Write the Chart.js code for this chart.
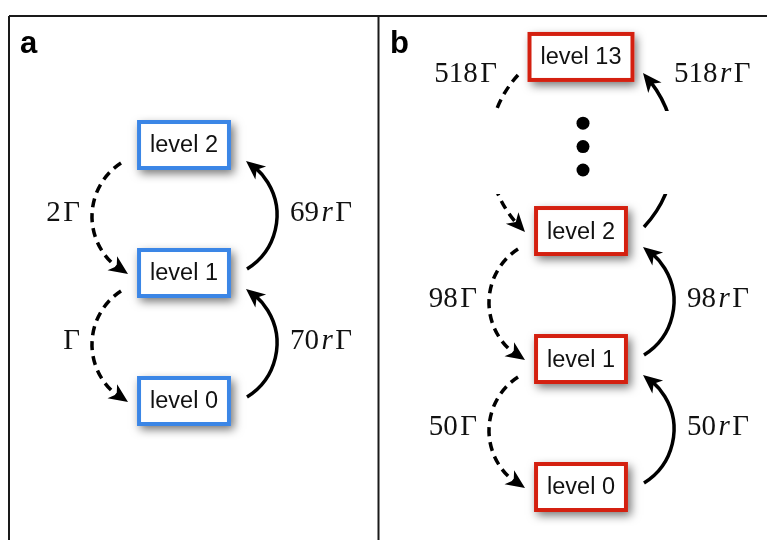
<!DOCTYPE html>
<html>
<head>
<meta charset="utf-8">
<script src="https://cdn.jsdelivr.net/npm/chart.js"></script>
<style>
  html, body { margin: 0; padding: 0; background: #fff; }
  #wrap { width: 767px; height: 540px; position: relative; }
</style>
</head>
<body>
<div id="wrap"><canvas id="chart"></canvas></div>
<script>
// levels shown in each panel
const levelsA = [0, 1, 2];
const levelsB = [0, 1, 2, 13];
// coefficient of Γ for the decay n+1 -> n (dashed)
const decayA = [1, 2];
const decayB = [50, 98, 518];
// coefficient of rΓ for the pump n -> n+1 (solid)
const pumpA = [70, 69];
const pumpB = [50, 98, 518];
// the "..." between level 2 and level 13
const gapDots = [0, 1, 2];

const colA = 184;
const colB = 581;
const rowA = (l) => l + 0.672;
const rowB = (l) => (l <= 2 ? l : 3.36);
const dotRow = (i) => 2.66 + (1 - i) * 0.183;

function circleThrough(p1, p2, p3) {
  const ax = p1.x, ay = p1.y, bx = p2.x, by = p2.y, cx = p3.x, cy = p3.y;
  const d = 2 * (ax * (by - cy) + bx * (cy - ay) + cx * (ay - by));
  const a2 = ax * ax + ay * ay, b2 = bx * bx + by * by, c2 = cx * cx + cy * cy;
  const ux = (a2 * (by - cy) + b2 * (cy - ay) + c2 * (ay - by)) / d;
  const uy = (a2 * (cx - bx) + b2 * (ax - cx) + c2 * (bx - ax)) / d;
  return { x: ux, y: uy, r: Math.hypot(ax - ux, ay - uy) };
}

function arrowArc(ctx, S, M, E, dashed, band) {
  const c = circleThrough(S, M, E);
  const a0 = Math.atan2(S.y - c.y, S.x - c.x);
  let a1 = Math.atan2(E.y - c.y, E.x - c.x);
  while (a1 > a0) a1 -= Math.PI * 2;
  const L = 19, W = 17;
  ctx.save();
  if (band) {
    ctx.beginPath();
    ctx.rect(0, 0, 767, band[0]);
    ctx.rect(0, band[1], 767, 540 - band[1]);
    ctx.clip();
  }
  ctx.lineWidth = 3.5;
  ctx.strokeStyle = "#000";
  ctx.setLineDash(dashed ? [9, 6] : []);
  ctx.beginPath();
  ctx.arc(c.x, c.y, c.r, a0, a1 + (L * 0.6) / c.r, true);
  ctx.stroke();
  ctx.restore();

  const ab = a1 + L / c.r;
  const bx = c.x + c.r * Math.cos(ab), by = c.y + c.r * Math.sin(ab);
  let dx = E.x - bx, dy = E.y - by;
  const len = Math.hypot(dx, dy);
  dx /= len; dy /= len;
  const nx = -dy, ny = dx;
  ctx.fillStyle = "#000";
  ctx.beginPath();
  ctx.moveTo(E.x, E.y);
  ctx.lineTo(E.x - dx * L + nx * W / 2, E.y - dy * L + ny * W / 2);
  ctx.lineTo(E.x - dx * L * 0.72, E.y - dy * L * 0.72);
  ctx.lineTo(E.x - dx * L - nx * W / 2, E.y - dy * L - ny * W / 2);
  ctx.closePath();
  ctx.fill();
}

function drawRate(ctx, coef, pumped, x, y, align) {
  const parts = [];
  if (coef !== 1) parts.push({ t: String(coef), f: '29px "Liberation Serif"' });
  if (pumped) parts.push({ t: "r", f: 'italic 29px "Liberation Serif"' });
  parts.push({ t: "Γ", f: '29px "Liberation Serif"' });
  const sp = 2.5;
  let total = 0;
  parts.forEach((p) => {
    ctx.font = p.f;
    p.w = ctx.measureText(p.t).width;
    total += p.w;
  });
  total += sp * (parts.length - 1);
  let cx = align === "right" ? x - total : x;
  ctx.fillStyle = "#111";
  ctx.textAlign = "left";
  ctx.textBaseline = "alphabetic";
  parts.forEach((p) => {
    ctx.font = p.f;
    ctx.fillText(p.t, cx, y + 10);
    cx += p.w + sp;
  });
}

function drawBox(ctx, p, level, color) {
  const text = "level " + level;
  ctx.font = '23.5px "Liberation Sans"';
  const w = ctx.measureText(text).width + 26;
  const h = 50;
  ctx.save();
  ctx.shadowColor = "rgba(0,0,0,0.55)";
  ctx.shadowBlur = 9;
  ctx.shadowOffsetX = 3;
  ctx.shadowOffsetY = 4;
  ctx.fillStyle = "#fff";
  ctx.fillRect(p.x - w / 2, p.y - h / 2, w, h);
  ctx.restore();
  ctx.lineWidth = 4;
  ctx.strokeStyle = color;
  ctx.strokeRect(p.x - w / 2 + 2, p.y - h / 2 + 2, w - 4, h - 4);
  ctx.fillStyle = "#111";
  ctx.textAlign = "center";
  ctx.textBaseline = "middle";
  ctx.fillText(text, p.x, p.y + 1);
}

function drawPanel(ctx, pts, levels, decay, pump, color) {
  for (let i = 0; i < levels.length - 1; i++) {
    const lo = pts[i], up = pts[i + 1];
    const cx = lo.x;
    const gap = levels[i + 1] - levels[i] > 1;
    const band = gap ? [up.y + 54, lo.y - 37] : null;
    // dashed decay on the left
    const S1 = { x: cx - 63, y: up.y + 18 };
    const E1 = { x: cx - 56, y: lo.y + 1 };
    const M1 = { x: cx - 92, y: (S1.y + E1.y) / 2 };
    arrowArc(ctx, S1, M1, E1, true, band);
    // solid pump on the right
    const S2 = { x: cx + 63, y: lo.y - 4 };
    const E2 = { x: cx + 62, y: up.y + 16 };
    const M2 = { x: cx + 93, y: (S2.y + E2.y) / 2 };
    arrowArc(ctx, S2, M2, E2, false, band);
    const ly = (up.y + lo.y) / 2 + 2;
    if (gap) {
      drawRate(ctx, decay[i], false, cx - 84, up.y + 15, "right");
      drawRate(ctx, pump[i], true, cx + 93, up.y + 15, "left");
    } else {
      drawRate(ctx, decay[i], false, M1.x - 12, ly, "right");
      drawRate(ctx, pump[i], true, M2.x + 13, ly, "left");
    }
  }
  pts.forEach((p, i) => drawBox(ctx, p, levels[i], color));
}

const diagram = {
  id: "diagram",
  afterDatasetsDraw(chart) {
    const ctx = chart.ctx;
    ctx.save();
    ctx.strokeStyle = "#1a1a1a";
    ctx.lineWidth = 2;
    ctx.beginPath();
    ctx.moveTo(9, 16); ctx.lineTo(767, 16);
    ctx.moveTo(9, 16); ctx.lineTo(9, 540);
    ctx.moveTo(378.5, 16); ctx.lineTo(378.5, 540);
    ctx.stroke();
    ctx.fillStyle = "#000";
    ctx.font = 'bold 31px "Liberation Sans"';
    ctx.textAlign = "left";
    ctx.textBaseline = "alphabetic";
    ctx.fillText("a", 20, 53);
    ctx.fillText("b", 390, 53);
    drawPanel(ctx, chart.getDatasetMeta(0).data, levelsA, decayA, pumpA, "#3b86e6");
    drawPanel(ctx, chart.getDatasetMeta(1).data, levelsB, decayB, pumpB, "#d42010");
    ctx.restore();
  },
};

new Chart(document.getElementById("chart"), {
  type: "scatter",
  data: {
    datasets: [
      { label: "a", data: levelsA.map((l) => ({ x: colA, y: rowA(l) })), pointRadius: 0 },
      { label: "b", data: levelsB.map((l) => ({ x: colB, y: rowB(l) })), pointRadius: 0 },
      {
        label: "dots",
        data: gapDots.map((i) => ({ x: colB + 2, y: dotRow(i) })),
        pointRadius: 6.5,
        backgroundColor: "#000",
        borderWidth: 0,
      },
    ],
  },
  options: {
    responsive: true,
    maintainAspectRatio: false,
    animation: false,
    events: [],
    layout: { padding: 0, autoPadding: false },
    plugins: { legend: { display: false }, tooltip: { enabled: false } },
    scales: {
      x: { type: "linear", min: 0, max: 767, display: false },
      y: { type: "linear", min: -0.414, max: 3.805, display: false },
    },
  },
  plugins: [diagram],
});
</script>
</body>
</html>
